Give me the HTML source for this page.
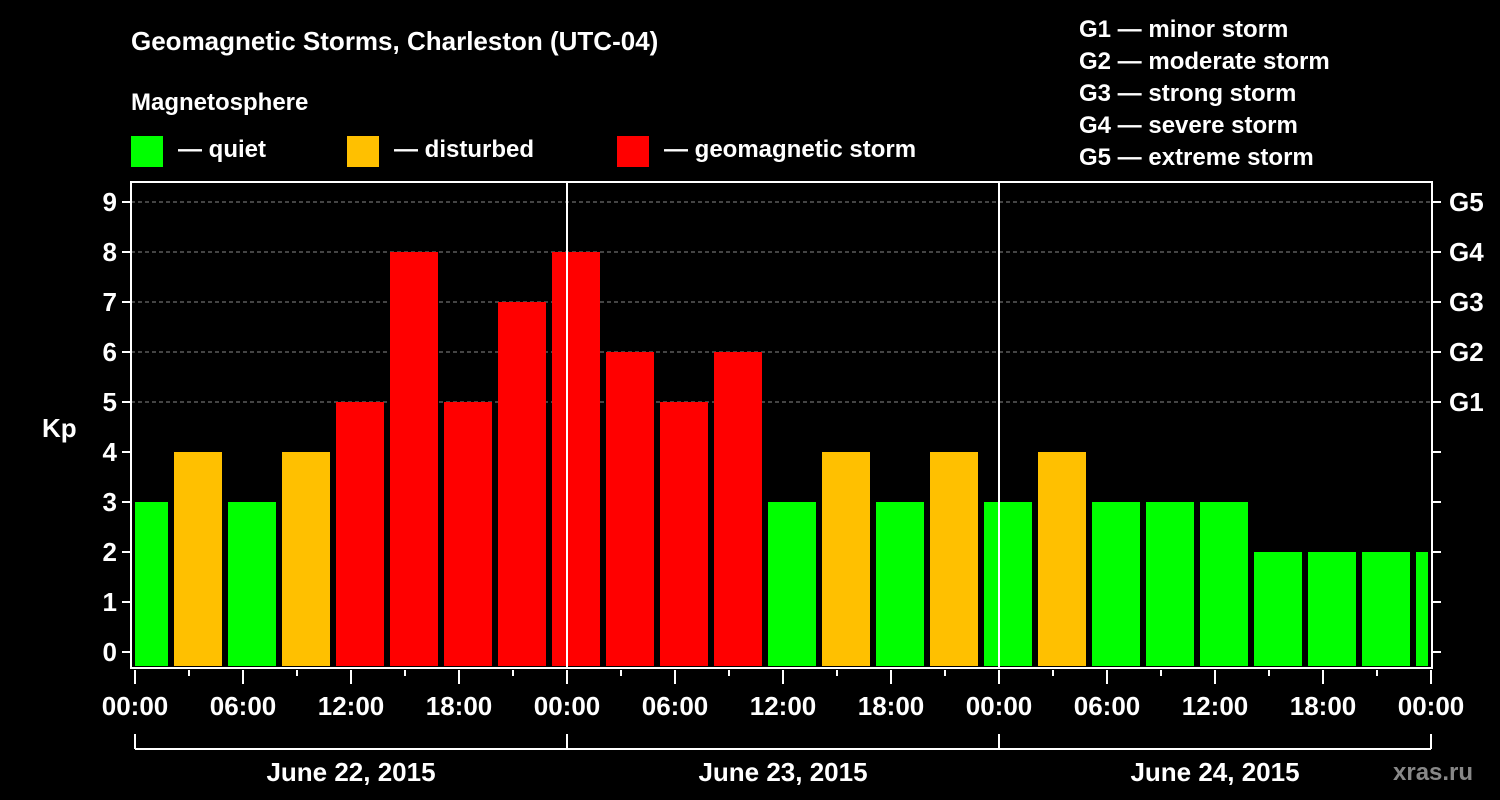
<!DOCTYPE html>
<html><head><meta charset="utf-8"><style>
html,body{margin:0;padding:0;background:#000;}
svg{display:block;font-family:"Liberation Sans",Arial,sans-serif;font-weight:bold;}
</style></head><body>
<svg id="chart" width="1500" height="800" viewBox="0 0 1500 800">
<rect width="1500" height="800" fill="#000"/>
<text x="131" y="50" fill="#fff" font-size="26">Geomagnetic Storms, Charleston (UTC-04)</text>
<text x="131" y="110" fill="#fff" font-size="24">Magnetosphere</text>
<g><rect x="131" y="136" width="32" height="31" fill="#00ff00"/><text x="178" y="157" fill="#fff" font-size="24">— quiet</text></g>
<g><rect x="347" y="136" width="32" height="31" fill="#ffc000"/><text x="394" y="157" fill="#fff" font-size="24">— disturbed</text></g>
<g><rect x="617" y="136" width="32" height="31" fill="#ff0000"/><text x="664" y="157" fill="#fff" font-size="24">— geomagnetic storm</text></g>
<g fill="#fff" font-size="24">
<text x="1079" y="37">G1 — minor storm</text>
<text x="1079" y="69">G2 — moderate storm</text>
<text x="1079" y="101">G3 — strong storm</text>
<text x="1079" y="133">G4 — severe storm</text>
<text x="1079" y="165">G5 — extreme storm</text>
</g>
<text x="42" y="437" fill="#fff" font-size="26">Kp</text>
<text x="1393" y="780" fill="#888" font-size="24">xras.ru</text>
<g id="grid"></g><g id="bars"></g><g id="axes"></g>
</svg>
<script>
const kpValues=[3,4,3,4,5,8,5,7,8,6,5,6,3,4,3,4,3,4,3,3,3,2,2,2,2];
const yTicks=[0,1,2,3,4,5,6,7,8,9];
const gLabels=['G1','G2','G3','G4','G5'];
const gLevels=[5,6,7,8,9];
const xTickLabels=['00:00','06:00','12:00','18:00','00:00','06:00','12:00','18:00','00:00','06:00','12:00','18:00','00:00'];
const dateLabels=['June 22, 2015','June 23, 2015','June 24, 2015'];
const NS='http://www.w3.org/2000/svg';
const X0=135,PXH=18,Y0=652,PXK=50,TOP=182,BOT=668,LEFT=131,RIGHT=1432;
const x=h=>X0+h*PXH, y=v=>Y0-v*PXK;
function mk(tag,attrs,parent,txt){const e=document.createElementNS(NS,tag);for(const k in attrs)e.setAttribute(k,attrs[k]);if(txt!==undefined)e.textContent=txt;parent.appendChild(e);return e;}
const grid=document.getElementById('grid'),bars=document.getElementById('bars'),axes=document.getElementById('axes');
mk('clipPath',{id:'pc'},bars);
mk('rect',{x:LEFT+4,y:TOP,width:RIGHT-LEFT-8,height:BOT-TOP},bars.firstChild);
gLevels.forEach((v,i)=>{
 const l=mk('line',{x1:LEFT,x2:RIGHT,y1:y(v),y2:y(v),stroke:'#888','stroke-dasharray':'4,3','stroke-width':1},grid);
 
 
 const t=mk('text',{x:1449,y:y(v)+9,fill:'#fff','font-size':26},axes,gLabels[i]);
 
 
});
const bg=mk('g',{'clip-path':'url(#pc)'},bars);
kpValues.forEach((v,i)=>{
 const c=3*i+0.5, col=v>=5?'#ff0000':(v>=4?'#ffc000':'#00ff00');
 const r=mk('rect',{x:x(c)-24,y:y(v),width:48,height:BOT-2-y(v),fill:col},bg);
 
 
});
[1,2].forEach(d=>{mk('line',{x1:x(24*d),x2:x(24*d),y1:TOP,y2:BOT,stroke:'#fff','stroke-width':2},axes);});
const fr=mk('rect',{x:LEFT,y:TOP,width:RIGHT-LEFT,height:BOT-TOP,fill:'none',stroke:'#fff','stroke-width':2},axes);


yTicks.forEach(v=>{
 mk('line',{x1:LEFT-9,x2:LEFT,y1:y(v),y2:y(v),stroke:'#fff','stroke-width':2},axes);
 mk('line',{x1:RIGHT,x2:RIGHT+9,y1:y(v),y2:y(v),stroke:'#fff','stroke-width':2},axes);
 const t=mk('text',{x:LEFT-14,y:y(v)+9,fill:'#fff','font-size':26,'text-anchor':'end'},axes,String(v));
 
 
});
for(let h=0;h<=72;h+=3){
 const major=h%6===0;
 mk('line',{x1:x(h),x2:x(h),y1:BOT+2,y2:BOT+(major?16:8),stroke:'#fff','stroke-width':2},axes);
}
xTickLabels.forEach((s,i)=>{
 const t=mk('text',{x:x(6*i),y:715,fill:'#fff','font-size':26,'text-anchor':'middle'},axes,s);
 
 
});
mk('line',{x1:x(0),x2:x(72),y1:749,y2:749,stroke:'#fff','stroke-width':2},axes);
[0,24,48,72].forEach(h=>mk('line',{x1:x(h),x2:x(h),y1:734,y2:749,stroke:'#fff','stroke-width':2},axes));
dateLabels.forEach((s,i)=>{
 const t=mk('text',{x:x(24*i+12),y:781,fill:'#fff','font-size':26,'text-anchor':'middle'},axes,s);
 
 
});
</script>
</body></html>
